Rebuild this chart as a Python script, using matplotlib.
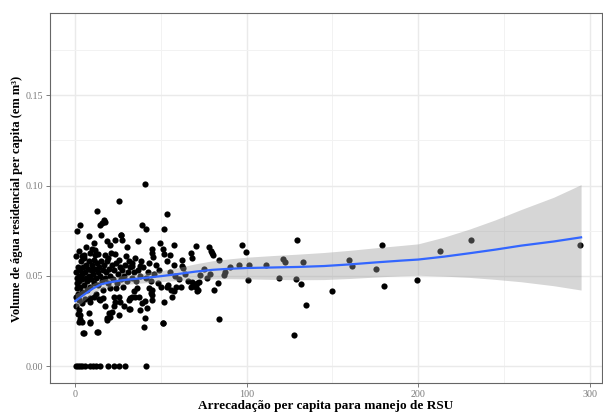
import matplotlib
matplotlib.use("Agg")
import matplotlib.pyplot as plt
from matplotlib.ticker import MultipleLocator, FixedLocator

plt.rcParams['font.family'] = ['Liberation Serif', 'DejaVu Serif']

# ---- data ----
zero_x = [0.5, 1.5, 2.7, 4.1, 5.5, 8.6, 10.2, 12.0, 14.2, 19.3, 22.3, 25.5, 29.0, 41.3]

pts_x = [
    # sparse right part
    70.6, 78, 79, 80, 80.3, 97, 99.8, 83.8, 95.5, 101.4, 111, 120.9, 122.4, 129.6, 133,
    72.5, 72, 71, 71.8, 77, 83.4, 80.9, 87.3, 86.7, 101, 118.9, 129, 131.6, 134.5, 83.8,
    127.8, 149.7, 159.8, 161.2, 178.9, 175.3, 180.3, 199.4, 213, 230.6, 294.5,
    # middle part
    25.5, 53.6, 12.7, 2.9, 39, 41, 51.5, 26.7, 27.3, 36.5, 49.3, 57.5, 30.2, 44.8, 44.8,
    45.4, 51.3, 55.1, 67.7, 68.2, 62.4, 62.4, 51.6, 53.6, 57.5, 63, 68, 69, 67.7, 61.4,
    55.6, 56.5, 51.6, 53.2, 51.3, 44.8, 44.8, 44.8, 41.9, 40.9, 40, 38, 37, 31.2, 33.1,
    31.8, 25.3, 18.5, 19.5, 12.7, 4.5, 8.4, 8.8, 10.7, 14.4, 16.4, 40.9, 37.6, 33.1, 33.1,
    39, 40.4, 43.9, 42.9, 35.1, 32.2, 50.1, 54, 57.5, 58.5, 70.2, 71.2, 36, 34, 51.3,
    # left low
    1.9, 2.9, 1.9, 3.9, 8.8, 7.8, 3.9, 2.3, 8.8, 13.6, 17.5, 18.5, 20.5, 21.5, 22.4,
    23.4, 22.4, 25.3, 26.3, 28.2, 31.2, 13.2, 4.9,
    # left high
    16.6, 15.6, 14.6, 17.5, 15.2, 18.5, 26.9, 10.7, 9.7, 11.7, 4.9, 3.9, 8.8, 11.7, 17.1, 21,
    # dense cluster
    0.5, 0.8, 1.2, 1.0, 1.5, 2.0, 2.2, 2.8, 3.0, 3.5, 3.8, 4.2, 4.6, 5.0, 5.3, 5.8, 6.2,
    6.5, 7.0, 7.4, 7.8, 8.2, 8.6, 9.0, 9.4, 9.9, 10.3, 10.8, 11.2, 11.6, 12.1, 12.5, 13.0,
    13.5, 14.0, 14.5, 15.0, 15.6, 16.2, 16.8, 17.4, 18.0, 18.6, 19.2, 19.8, 20.5, 21.2,
    22.0, 22.7, 23.5, 24.2, 25.0, 25.8, 26.5, 27.3, 28.2, 29.0, 30.0, 31.0, 32.0, 33.0,
    34.2, 35.5, 36.8, 38.0, 39.5, 41.0, 42.5, 44.0, 46.0, 48.0, 0.3, 1.8, 4.0, 6.8, 0.7,
    1.3, 2.5, 5.5, 12.0, 16.0, 20.0, 24.0, 28.0, 0.2, 2.0, 6.0, 13.5, 19.0, 23.0, 25.5,
    29.5, 31.5, 34.8, 38.5, 43.0, 47.0, 49.0, 55.0, 58.0, 60.5, 64.0, 66.0, 75.0, 78.5,
    90.0, 1.0, 8.0, 20.5, 23.0,
]
pts_y = [
    0.0663, 0.0659, 0.064, 0.0626, 0.0617, 0.0672, 0.063, 0.0585, 0.0561, 0.0561, 0.0561, 0.0593, 0.0574, 0.070, 0.0574,
    0.0506, 0.0468, 0.046, 0.0419, 0.0487, 0.046, 0.0422, 0.0519, 0.0506, 0.0478, 0.0487, 0.0482, 0.0456, 0.0337, 0.0261,
    0.017, 0.0413, 0.0589, 0.0556, 0.0668, 0.0537, 0.0444, 0.0478, 0.064, 0.070, 0.0672,
    0.0913, 0.0844, 0.0857, 0.0783, 0.0783, 0.0759, 0.0758, 0.0728, 0.0696, 0.069, 0.0681, 0.0672, 0.0659, 0.0648, 0.0626,
    0.0602, 0.0648, 0.0613, 0.0626, 0.0598, 0.0589, 0.0552, 0.0622, 0.058, 0.0561, 0.0543, 0.0468, 0.0444, 0.044, 0.0437,
    0.0422, 0.0385, 0.0357, 0.0437, 0.0237, 0.0422, 0.0394, 0.0367, 0.032, 0.0265, 0.0215, 0.0311, 0.0385, 0.0367, 0.0385,
    0.0315, 0.0283, 0.0265, 0.0292, 0.0191, 0.0185, 0.0246, 0.0376, 0.0385, 0.0367, 0.0376, 0.1009, 0.0552, 0.057, 0.0552,
    0.0348, 0.0363, 0.0407, 0.0431, 0.0385, 0.0376, 0.044, 0.045, 0.0413, 0.044, 0.044, 0.0413, 0.0431, 0.0413, 0.024,
    0.0311, 0.0283, 0.0246, 0.0246, 0.024, 0.0292, 0.0348, 0.0367, 0.0357, 0.037, 0.033, 0.0256, 0.0274, 0.0302, 0.033,
    0.0357, 0.0385, 0.0385, 0.0357, 0.033, 0.0315, 0.019, 0.0185,
    0.081, 0.079, 0.078, 0.0798, 0.0728, 0.069, 0.0724, 0.0681, 0.065, 0.0644, 0.0617, 0.0607, 0.0626, 0.0617, 0.0617, 0.0626,
    0.052, 0.049, 0.046, 0.043, 0.055, 0.050, 0.047, 0.053, 0.044, 0.058, 0.051, 0.048, 0.055, 0.045, 0.060, 0.052, 0.049,
    0.056, 0.047, 0.054, 0.050, 0.058, 0.044, 0.053, 0.048, 0.056, 0.051, 0.059, 0.046, 0.054, 0.049, 0.057, 0.052,
    0.045, 0.055, 0.050, 0.058, 0.047, 0.053, 0.056, 0.049, 0.052, 0.058, 0.046, 0.054, 0.050, 0.056,
    0.048, 0.053, 0.057, 0.046, 0.051, 0.055, 0.048, 0.053, 0.050, 0.056, 0.047, 0.052, 0.055, 0.049,
    0.052, 0.047, 0.053, 0.050, 0.055, 0.049, 0.052, 0.047, 0.051, 0.046, 0.038, 0.040, 0.041, 0.042, 0.033,
    0.029, 0.026, 0.037, 0.040, 0.042, 0.043, 0.043, 0.044, 0.061, 0.064, 0.066, 0.062, 0.060, 0.062, 0.059,
    0.061, 0.058, 0.060, 0.058, 0.057, 0.056, 0.053, 0.052, 0.050, 0.048, 0.051, 0.047, 0.054, 0.051,
    0.055, 0.075, 0.072, 0.067, 0.070,
]

# smoothed trend and its confidence band
fit_x = [0, 5, 10, 15, 20, 25, 30, 35, 40, 50, 60, 70, 80, 90, 100, 115, 130, 145,
         160, 175, 190, 200, 215, 230, 245, 260, 279, 295]
fit_y = [0.0360, 0.0395, 0.0428, 0.0453, 0.0464, 0.0472, 0.0478, 0.0483, 0.0488, 0.0498,
         0.0510, 0.0523, 0.0533, 0.0539, 0.0543, 0.0546, 0.0549, 0.0554, 0.0563, 0.0574,
         0.0584, 0.0590, 0.0606, 0.0625, 0.0645, 0.0667, 0.0690, 0.0713]
fit_se = [0.0040, 0.0033, 0.0028, 0.0026, 0.0025, 0.0025, 0.0025, 0.0026, 0.0027, 0.0030,
          0.0036, 0.0043, 0.0050, 0.0055, 0.0060, 0.0066, 0.0071, 0.0075, 0.0078, 0.0081,
          0.0084, 0.0087, 0.0108, 0.0134, 0.0165, 0.0200, 0.0245, 0.0292]

x_ticks = [0, 100, 200, 300]
y_ticks = [0.00, 0.05, 0.10, 0.15]
y_tick_labels = ['0.00', '0.05', '0.10', '0.15']
x_label = 'Arrecadação per capita para manejo de RSU'
y_label = 'Volume de água residencial per capita (em m³)'

# ---- figure ----
W, H = 603, 412
fig = plt.figure(figsize=(W / 100, H / 100), dpi=100)
ax = fig.add_axes([50 / W, 1 - 383 / H, (602 - 50) / W, (383 - 13) / H])

all_x = zero_x + pts_x
all_y = [0.0] * len(zero_x) + pts_y
ax.scatter(all_x, all_y, s=20, color='black', linewidths=0, zorder=3)

lo = [m - s for m, s in zip(fit_y, fit_se)]
hi = [m + s for m, s in zip(fit_y, fit_se)]
ax.fill_between(fit_x, lo, hi, color='#999999', alpha=0.4, linewidth=0, zorder=4)
ax.plot(fit_x, fit_y, color='#3366FF', linewidth=1.6, zorder=5)

ax.set_xlim(-14.75, 307.2)
ax.set_ylim(-0.0094, 0.1956)
ax.xaxis.set_major_locator(FixedLocator(x_ticks))
ax.yaxis.set_major_locator(FixedLocator(y_ticks))
ax.set_yticklabels(y_tick_labels)
ax.xaxis.set_minor_locator(MultipleLocator(50))
ax.yaxis.set_minor_locator(MultipleLocator(0.025))
ax.grid(which='major', color='#EAEAEA', linewidth=1.0, zorder=0)
ax.grid(which='minor', color='#F2F2F2', linewidth=0.7, zorder=0)
ax.set_axisbelow(True)

ax.tick_params(which='major', length=3, width=0.6, color='#666666',
               labelsize=7.2, labelcolor='#7A7A7A', pad=2)
ax.tick_params(which='minor', length=0)
for sp in ax.spines.values():
    sp.set_color('#666666')
    sp.set_linewidth(0.8)

fig.text(326 / W, 1 - 406 / H, x_label, ha='center', va='center',
         fontsize=9.5, fontweight='bold')
fig.text(17 / W, 1 - 199 / H, y_label, ha='center', va='center',
         rotation=90, fontsize=9.0, fontweight='bold')

fig.savefig('out.png', dpi=100)
